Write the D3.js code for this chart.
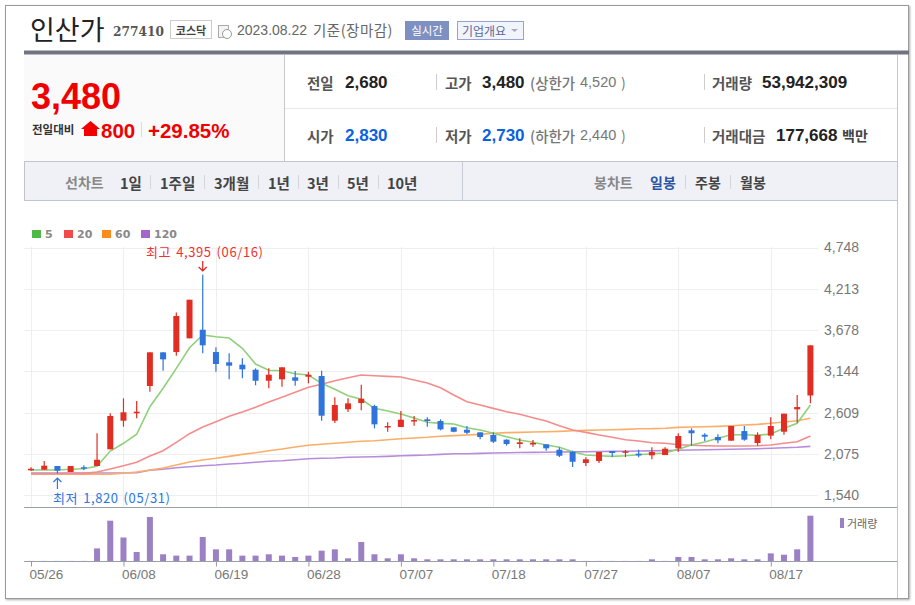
<!DOCTYPE html>
<html>
<head>
<meta charset="utf-8">
<script src="https://cdn.jsdelivr.net/npm/d3@7"></script>
<style>
  html, body { margin: 0; padding: 0; background: #fff; }
  svg { display: block; }
  text { font-family: "Noto Sans CJK KR", "Liberation Sans", sans-serif; }
  .num { font-family: "Liberation Sans", Arial, sans-serif; }
</style>
</head>
<body>
<div id="chart"></div>
<script>
const dates = ['05/26','05/30','05/31','06/01','06/02','06/05','06/07','06/08','06/09','06/12',
  '06/13','06/14','06/15','06/16','06/19','06/20','06/21','06/22','06/23','06/26',
  '06/27','06/28','06/29','06/30','07/03','07/04','07/05','07/06','07/07','07/10',
  '07/11','07/12','07/13','07/14','07/17','07/18','07/19','07/20','07/21','07/24',
  '07/25','07/26','07/27','07/28','07/31','08/01','08/02','08/03','08/04','08/07',
  '08/08','08/09','08/10','08/11','08/14','08/16','08/17','08/18','08/21','08/22'];
const opens = [1870,1868,1916,1838,1900,1916,2132,2503,2599,2953,3389,3393,3571,3682,3393,3260,3229,3164,3021,3039,
  3065,3073,3082,2503,2651,2732,2693,2421,2421,2495,2521,2499,2417,2386,2352,2318,2257,2201,2197,2197,
  2127,2101,1955,1981,2110,2088,2075,2054,2058,2145,2378,2321,2292,2244,2369,2214,2309,2360,2650,2830];
const closes = [1880,1920,1855,1916,1885,1997,2564,2612,2620,3389,3298,3860,4071,3480,3238,3216,3169,3021,3099,3195,
  3021,3099,2568,2706,2728,2788,2456,2434,2516,2512,2499,2391,2360,2347,2292,2231,2201,2223,2214,2145,
  2049,1971,2003,2097,2084,2106,2054,2097,2140,2305,2340,2296,2249,2434,2257,2318,2434,2594,2680,3480];
const highs = [1900,1980,1916,1916,1925,2340,2599,2793,2758,3389,3389,3907,4071,4395,3454,3376,3312,3182,3182,3195,
  3147,3138,3151,2806,2793,2969,2710,2482,2629,2564,2547,2521,2417,2434,2352,2352,2262,2275,2253,2197,
  2158,2114,2029,2097,2110,2123,2127,2158,2158,2340,2404,2340,2327,2434,2434,2352,2547,2594,2836,3480];
const lows = [1850,1868,1820,1838,1864,1916,2132,2425,2534,2879,3151,3345,3571,3376,3138,3039,3052,2962,2923,2943,
  2956,2987,2503,2473,2616,2638,2404,2360,2421,2438,2425,2378,2352,2326,2262,2214,2179,2145,2166,2114,
  2032,1903,1916,1955,2032,2032,2029,2003,2058,2101,2179,2240,2210,2244,2244,2179,2262,2321,2477,2730];
const ma5 = [1864,1864,1864,1873,1881,1912,2110,2210,2327,2684,2923,3182,3449,3614,3592,3575,3441,3238,3156,3151,
  3112,3095,2987,2910,2827,2780,2663,2629,2590,2538,2482,2469,2460,2412,2382,2340,2296,2253,2223,2188,
  2158,2101,2058,2049,2041,2049,2062,2075,2084,2132,2188,2227,2275,2321,2321,2314,2331,2404,2469,2706];
const ma20 = [1815,1815,1815,1820,1820,1838,1877,1920,1964,2045,2114,2223,2335,2421,2490,2560,2616,2677,2745,2806,
  2871,2936,2975,3021,3060,3095,3086,3078,3069,3030,2991,2931,2836,2749,2706,2663,2620,2586,2542,2499,
  2438,2382,2352,2318,2288,2257,2240,2218,2210,2192,2184,2179,2175,2175,2175,2179,2188,2210,2231,2305];
const ma60 = [1808,1808,1808,1808,1808,1808,1810,1821,1838,1864,1890,1929,1968,1994,2016,2041,2067,2088,2114,2136,
  2162,2184,2197,2210,2223,2236,2244,2257,2270,2279,2288,2301,2309,2318,2326,2340,2348,2352,2356,2360,
  2365,2373,2378,2382,2386,2391,2399,2400,2406,2417,2421,2425,2430,2438,2447,2456,2469,2486,2503,2534];
const ma120 = [1825,1825,1825,1825,1825,1825,1825,1825,1828,1860,1873,1894,1907,1920,1929,1942,1951,1964,1977,1984,
  1997,2010,2016,2019,2029,2032,2036,2041,2049,2054,2058,2067,2075,2075,2080,2084,2088,2090,2092,2095,
  2097,2099,2101,2104,2106,2108,2110,2112,2117,2120,2123,2126,2129,2133,2136,2140,2146,2152,2158,2170];
// volume in millions of shares
const volumes = [0.1,0.1,0.1,0.1,0.1,15,48,28,10.7,52.4,8,6.4,6.4,28.6,13.9,13.9,6.4,6.4,8,6.4,
  4.8,6.4,12.3,13.9,3.2,22.6,8,3.2,8,3.2,2,2,2,2,2,2,2,2,2,2,
  2,2,0.1,0.1,0.1,0.1,0.1,2,0.1,4.8,4.8,2,2,3.2,2,2,9.1,7.5,13.9,53.94];
const priceTicks = [1540,2075,2609,3144,3678,4213,4748];
const dateTicks = ['05/26','06/08','06/19','06/28','07/07','07/18','07/27','08/07','08/17'];
const maNames = ['5','20','60','120'];
const maColors = ['#4fb946','#f04a4a','#fa8c1e','#a566cc'];
const maLines = ['#8fd07a','#f58c8c','#fbae68','#b88cdc'];

const width = 915, height = 605;
const svg = d3.select('#chart').append('svg').attr('width', width).attr('height', height);

// helper for the many header labels
function label(x, y, str, size, color, weight, cls, anchor) {
  return svg.append('text').attr('class', cls || null)
    .attr('x', x).attr('y', y).attr('font-size', size).attr('fill', color)
    .attr('font-weight', weight || 'normal').attr('text-anchor', anchor || 'start')
    .attr('dominant-baseline', 'central').text(str);
}
function hline(x1, x2, y, color, w) {
  svg.append('line').attr('x1', x1).attr('x2', x2).attr('y1', y).attr('y2', y)
    .attr('stroke', color).attr('stroke-width', w || 1);
}
function vline(x, y1, y2, color, w) {
  svg.append('line').attr('x1', x).attr('x2', x).attr('y1', y1).attr('y2', y2)
    .attr('stroke', color).attr('stroke-width', w || 1);
}

// window frame
svg.append('rect').attr('x', 5.5).attr('y', 5.5).attr('width', 903).attr('height', 593)
  .attr('fill', '#fff').attr('stroke', '#9a9a9a').style('filter', 'drop-shadow(1px 1px 1px #aaa)');

// title row
label(30, 28, '인산가', 27, '#222');
label(113, 32, '277410', 12.2, '#555', 'bold', 'num').style('font-family', '"DejaVu Serif", serif');
svg.append('rect').attr('x', 170.5).attr('y', 20.5).attr('width', 41).attr('height', 18).attr('fill', '#fff').attr('stroke', '#ccc');
label(191, 29.5, '코스닥', 11, '#444', 'bold', null, 'middle');
svg.append('rect').attr('x', 218.5).attr('y', 25.5).attr('width', 10).attr('height', 12).attr('fill', '#f4f4f4').attr('stroke', '#aaa');
svg.append('circle').attr('cx', 227).attr('cy', 34).attr('r', 4.5).attr('fill', '#fff').attr('stroke', '#999');
label(237, 30, '2023.08.22', 14, '#666', null, 'num');
label(313, 29.5, '기준(장마감)', 14.5, '#666').style('letter-spacing', '0.5px');
svg.append('rect').attr('x', 405).attr('y', 21).attr('width', 44).attr('height', 19).attr('fill', '#7e8fc2');
label(427, 30, '실시간', 11.5, '#fff', null, null, 'middle');
svg.append('rect').attr('x', 457.5).attr('y', 21.5).attr('width', 66).attr('height', 18).attr('fill', '#f2f4fb').attr('stroke', '#93a3d2');
label(462, 30, '기업개요', 12, '#5a6a9a');
svg.append('path').attr('d', 'M511 29h7l-3.5 3z').attr('fill', '#aab');

hline(24, 909, 52.5, '#6f7480', 4);

// price summary
svg.append('rect').attr('x', 24).attr('y', 55).attr('width', 260).attr('height', 106).attr('fill', '#fafafa');
vline(284.5, 55, 161, '#c8c8c8');
hline(285, 897, 108.5, '#e8e8e8');
vline(897.5, 55, 598, '#c4c6cc');
label(31, 96, '3,480', 36, '#f00000', 'bold', 'num');
label(32, 129, '전일대비', 11.5, '#333', 'bold');
svg.append('path').attr('d', 'M90.5 121L100 129H97V136H84V129H81z').attr('fill', '#f00000');
label(101, 130, '800', 20.5, '#f00000', 'bold', 'num');
vline(141.5, 122, 137, '#ddd');
label(148, 130, '+29.85%', 20.5, '#f00000', 'bold', 'num');

const rowY = [82, 135];
label(307, rowY[0], '전일', 14.5, '#555', 'bold');
label(345, rowY[0], '2,680', 17, '#222', 'bold', 'num');
label(445, rowY[0], '고가', 14.5, '#555', 'bold');
label(482, rowY[0], '3,480', 17, '#222', 'bold', 'num');
label(530, rowY[0], '(상한가', 14.5, '#777', 500);
label(580, rowY[0], '4,520', 14.5, '#777', null, 'num');
label(621, rowY[0], ')', 14, '#777');
label(712, rowY[0], '거래량', 14.5, '#555', 'bold');
label(762, rowY[0], '53,942,309', 17, '#222', 'bold', 'num');
label(307, rowY[1], '시가', 14.5, '#555', 'bold');
label(345, rowY[1], '2,830', 17, '#0b62e0', 'bold', 'num');
label(445, rowY[1], '저가', 14.5, '#555', 'bold');
label(482, rowY[1], '2,730', 17, '#0b62e0', 'bold', 'num');
label(530, rowY[1], '(하한가', 14.5, '#777', 500);
label(580, rowY[1], '2,440', 14.5, '#777', null, 'num');
label(621, rowY[1], ')', 14, '#777');
label(712, rowY[1], '거래대금', 14.5, '#555', 'bold');
label(776, rowY[1], '177,668', 17, '#222', 'bold', 'num');
label(842, rowY[1], '백만', 14, '#444', 'bold');
rowY.forEach(y => { vline(436.5, y - 8, y + 8, '#ccc'); vline(704.5, y - 8, y + 8, '#ccc'); });

// period tabs
svg.append('rect').attr('x', 24.5).attr('y', 161.5).attr('width', 873).attr('height', 39).attr('fill', '#eff1f6').attr('stroke', '#c0c4cc');
vline(462.5, 162, 200, '#c8ccd4');
label(65, 182, '선차트', 14, '#888', 'bold');
[['1일',120],['1주일',160],['3개월',214],['1년',268],['3년',307],['5년',347],['10년',387]].forEach(d => label(d[1], 182, d[0], 14.5, '#444', 'bold'));
[150,204,258,298,338,378].forEach(x => vline(x + 0.5, 175, 189, '#d4d6dc'));
label(594, 182, '봉차트', 14, '#888', 'bold');
label(650, 182, '일봉', 14, '#2a55a8', 'bold');
label(695, 182, '주봉', 14, '#444', 'bold');
label(740, 182, '월봉', 14, '#444', 'bold');
[685,730].forEach(x => vline(x + 0.5, 175, 189, '#d4d6dc'));

// scales
const x = d3.scalePoint().domain(dates).range([31, 810.4]);
const y = d3.scaleLinear().domain([1540, 4748]).range([495, 247.5]);
const yVol = d3.scaleLinear().domain([0, 53.94]).range([561, 515.7]);

// grid
const grid = svg.append('g').attr('stroke', '#eeeeee');
grid.selectAll('.h').data(priceTicks).enter().append('line')
  .attr('x1', 24).attr('x2', 818)
  .attr('y1', d => Math.round(y(d)) + 0.5).attr('y2', d => Math.round(y(d)) + 0.5);
grid.selectAll('.v').data(dateTicks).enter().append('line')
  .attr('x1', d => Math.round(x(d)) + 0.5).attr('x2', d => Math.round(x(d)) + 0.5)
  .attr('y1', 247).attr('y2', 507);

// axes
const yAxis = d3.axisRight(y).tickValues(priceTicks).tickSize(0).tickPadding(0).tickFormat(d3.format(','));
const yAxisG = svg.append('g').attr('transform', 'translate(824,0)').call(yAxis);
yAxisG.select('.domain').remove();
yAxisG.selectAll('text').attr('class', 'num').attr('font-size', 14).attr('fill', '#777');

hline(24, 897, 507.5, '#9a9ea8');
const xAxis = d3.axisBottom(x).tickValues(dateTicks).tickSize(5).tickPadding(3);
const xAxisG = svg.append('g').attr('transform', 'translate(0,561.5)').call(xAxis);
xAxisG.select('.domain').remove();
xAxisG.selectAll('line').attr('stroke', '#999');
xAxisG.selectAll('text').attr('class', 'num').attr('font-size', 13.5).attr('fill', '#777')
  .attr('text-anchor', 'start').attr('dx', -2);

// moving averages
const line = d3.line().x((d, i) => x(dates[i])).y(d => y(d));
[ma120, ma60, ma20, ma5].forEach((s, i) => {
  svg.append('path').datum(s).attr('d', line).attr('fill', 'none')
    .attr('stroke', maLines[3 - i]).attr('stroke-width', 1.6);
});

// candles
const idx = d3.range(dates.length);
const upColor = '#e12d22', downColor = '#2f74dc';
const col = i => closes[i] >= opens[i] ? upColor : downColor;
svg.selectAll('.wick').data(idx).enter().append('line').attr('class', 'wick')
  .attr('x1', i => x(dates[i])).attr('x2', i => x(dates[i]))
  .attr('y1', i => y(highs[i])).attr('y2', i => y(lows[i]))
  .attr('stroke', col).attr('stroke-width', 1.2);
svg.selectAll('.body').data(idx).enter().append('rect').attr('class', 'body')
  .attr('x', i => x(dates[i]) - 3).attr('width', 6)
  .attr('y', i => y(Math.max(opens[i], closes[i])))
  .attr('height', i => Math.max(1.5, Math.abs(y(opens[i]) - y(closes[i]))))
  .attr('fill', col);

// volume
svg.selectAll('.vol').data(idx).enter().append('rect').attr('class', 'vol')
  .attr('x', i => x(dates[i]) - 3).attr('width', 6)
  .attr('y', i => yVol(volumes[i]))
  .attr('height', i => yVol(0) - yVol(volumes[i]))
  .attr('fill', '#9b80c4');
hline(24, 897, 561.5, '#9a9ea8');
svg.append('rect').attr('x', 840).attr('y', 518).attr('width', 4).attr('height', 10).attr('fill', '#9b80c4');
label(847, 523, '거래량', 11, '#666');

// legend
const legX = [32, 64, 102, 141];
maNames.forEach((n, i) => {
  svg.append('rect').attr('x', legX[i]).attr('y', 230).attr('width', 9).attr('height', 8).attr('fill', maColors[i]);
  label(legX[i] + 13, 234.5, n, 11, '#888', 'bold').style('font-family', '"DejaVu Sans", sans-serif');
});

// high / low notes
const xHi = x('06/16'), xLo = x('05/31');
label(146, 251, '최고 4,395 (06/16)', 13, '#f03030').style('letter-spacing', '0.6px').style('word-spacing', '1.5px');
label(53, 497, '최저 1,820 (05/31)', 13, '#2a78e0').style('letter-spacing', '0.6px').style('word-spacing', '1.5px');
svg.append('path').attr('d', `M${xHi} 261V271M${xHi - 4} 267L${xHi} 271L${xHi + 4} 267`)
  .attr('fill', 'none').attr('stroke', '#e02020').attr('stroke-width', 1.2);
svg.append('path').attr('d', `M${xLo} 489V478M${xLo - 4} 482L${xLo} 478L${xLo + 4} 482`)
  .attr('fill', 'none').attr('stroke', '#2a78e0').attr('stroke-width', 1.2);
</script>
</body>
</html>
